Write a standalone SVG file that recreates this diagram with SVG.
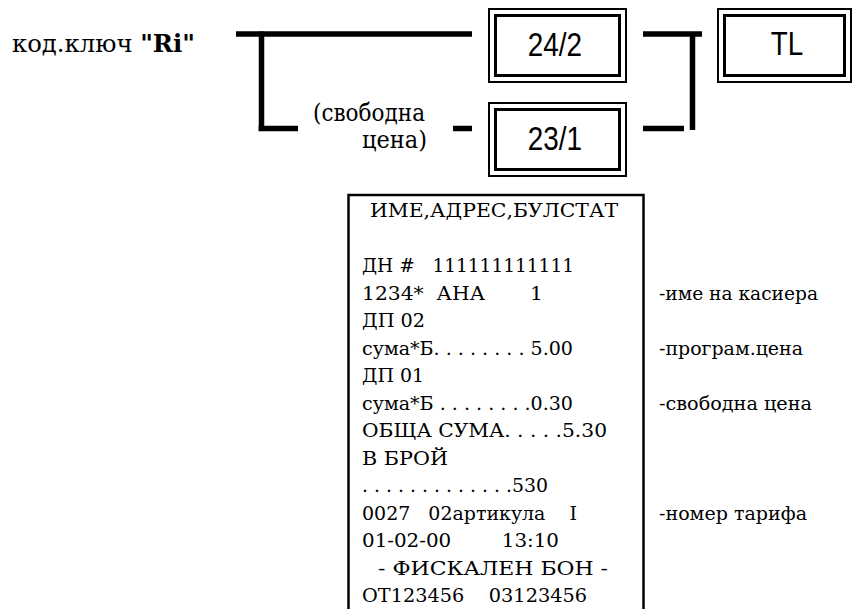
<svg xmlns="http://www.w3.org/2000/svg" width="852" height="609" viewBox="0 0 852 609">
<style>
.conn{stroke:#000;stroke-width:5.5;fill:none;stroke-linecap:butt}
.bo{fill:#fff;stroke:#000;stroke-width:2}
.bi{fill:none;stroke:#000;stroke-width:3}
.bl{font-family:"Liberation Sans",Arial,sans-serif;font-size:34px;fill:#000}
.t{font-family:"DejaVu Serif","Liberation Serif","Times New Roman",serif;fill:#000}
.lab{font-size:24px}
.rc{font-size:19px}
.an{font-size:19px}
</style>
<rect width="852" height="609" fill="#fff"/>
<g id="connectors">
<path class="conn" d="M236,34 H472"/>
<path class="conn" d="M261.5,31.5 V131 M258.5,128.5 H298"/>
<path class="conn" d="M453,128.5 H472"/>
<path class="conn" d="M643,34 H702 M692.5,31.5 V130"/>
<path class="conn" d="M643,128.5 H684"/>
</g>
<g id="label-key">
<text class="t lab" x="12" y="52" textLength="183" lengthAdjust="spacingAndGlyphs">код.ключ <tspan font-weight="bold">"Ri"</tspan></text>
</g>
<g id="label-free">
<text class="t lab" x="313" y="121" textLength="112" lengthAdjust="spacingAndGlyphs">(свободна</text>
<text class="t lab" x="362" y="148" textLength="65" lengthAdjust="spacingAndGlyphs">цена)</text>
</g>
<g id="node-24-2">
<rect class="bo" x="489" y="9" width="137" height="73"/>
<rect class="bi" x="495.5" y="15.5" width="124" height="60"/>
<text class="bl" transform="translate(555,56) scale(0.82,1)" text-anchor="middle">24/2</text>
</g>
<g id="node-23-1">
<rect class="bo" x="489" y="103" width="137" height="73"/>
<rect class="bi" x="495.5" y="109.5" width="124" height="60"/>
<text class="bl" transform="translate(555,150) scale(0.82,1)" text-anchor="middle">23/1</text>
</g>
<g id="node-TL">
<rect class="bo" x="718" y="9" width="133" height="73"/>
<rect class="bi" x="724.5" y="15.5" width="120" height="60"/>
<text class="bl" transform="translate(787,55) scale(0.82,1)" text-anchor="middle">TL</text>
</g>
<g id="receipt">
<rect x="348.5" y="195" width="295" height="430" fill="#fff" stroke="#000" stroke-width="2.5"/>
<g class="t rc">
<text x="370" y="217" textLength="248" lengthAdjust="spacingAndGlyphs">ИМЕ,АДРЕС,БУЛСТАТ</text>
<text x="362" y="272" xml:space="preserve" textLength="212" lengthAdjust="spacingAndGlyphs">ДН #   111111111111</text>
<text x="362" y="299.5" xml:space="preserve" textLength="181" lengthAdjust="spacingAndGlyphs">1234*  АНА       1</text>
<text x="362" y="327" textLength="63" lengthAdjust="spacingAndGlyphs">ДП 02</text>
<text x="362" y="354.5" textLength="211" lengthAdjust="spacingAndGlyphs">сума*Б. . . . . . . . 5.00</text>
<text x="362" y="382" textLength="62" lengthAdjust="spacingAndGlyphs">ДП 01</text>
<text x="362" y="409.5" textLength="211" lengthAdjust="spacingAndGlyphs">сума*Б . . . . . . . .0.30</text>
<text x="362" y="437" textLength="245" lengthAdjust="spacingAndGlyphs">ОБЩА СУМА. . . . .5.30</text>
<text x="362" y="464.5" textLength="86" lengthAdjust="spacingAndGlyphs">В БРОЙ</text>
<text x="362" y="492" textLength="186" lengthAdjust="spacingAndGlyphs">. . . . . . . . . . . . .530</text>
<text x="362" y="519.5" xml:space="preserve" textLength="215" lengthAdjust="spacingAndGlyphs">0027   02артикула    I</text>
<text x="362" y="547" xml:space="preserve" textLength="197" lengthAdjust="spacingAndGlyphs">01-02-00        13:10</text>
<text x="378" y="574.5" textLength="230" lengthAdjust="spacingAndGlyphs">- ФИСКАЛЕН БОН -</text>
<text x="362" y="602" xml:space="preserve" textLength="225" lengthAdjust="spacingAndGlyphs">ОТ123456    03123456</text>
</g>
</g>
<g id="annotations" class="t an">
<text x="659" y="300" textLength="159" lengthAdjust="spacingAndGlyphs">-име на касиера</text>
<text x="659" y="355" textLength="144" lengthAdjust="spacingAndGlyphs">-програм.цена</text>
<text x="659" y="410" textLength="153" lengthAdjust="spacingAndGlyphs">-свободна цена</text>
<text x="659" y="520" textLength="148" lengthAdjust="spacingAndGlyphs">-номер тарифа</text>
</g>
</svg>
